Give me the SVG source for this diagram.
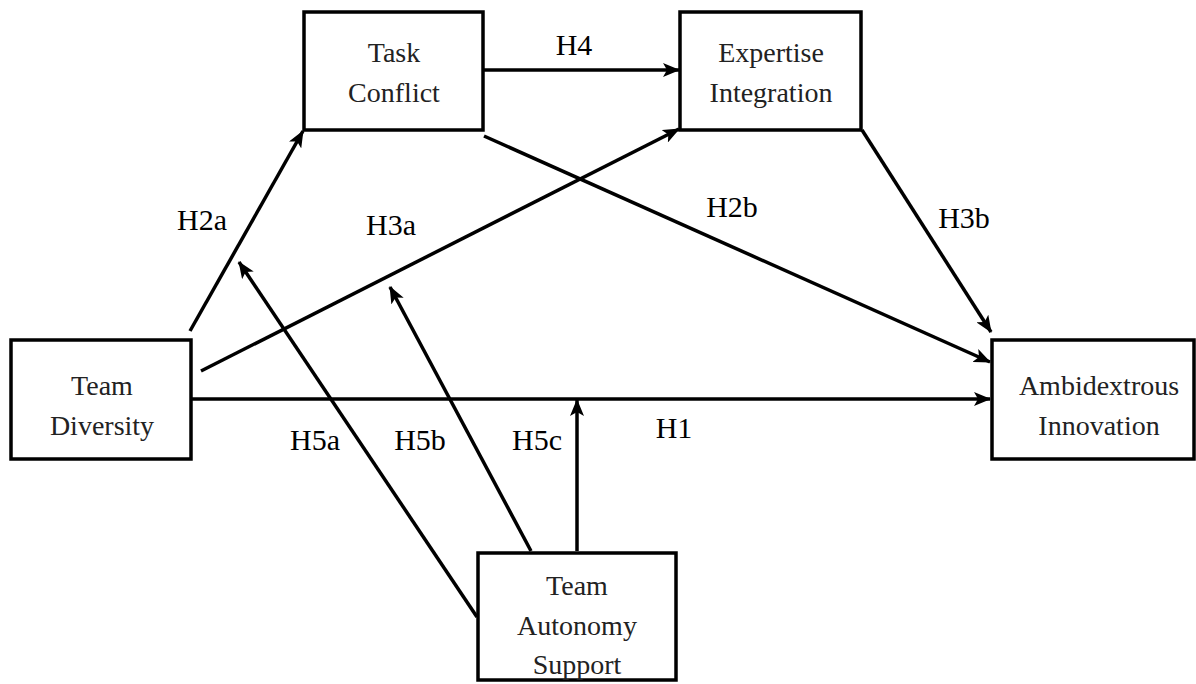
<svg xmlns="http://www.w3.org/2000/svg" width="1196" height="684" viewBox="0 0 1196 684">
<style>
.box{fill:#fff;stroke:#000;stroke-width:3.5}
.nt{font-size:28px;fill:#222;text-anchor:middle}
.lb{font-size:30px;fill:#000;text-anchor:middle}
.cn{stroke:#000;stroke-width:3.5;fill:none;marker-end:url(#ah)}
</style>
<defs>
<marker id="ah" markerUnits="userSpaceOnUse" markerWidth="18" markerHeight="14" refX="16" refY="7" orient="auto">
<path d="M0,0 L17,7 L0,14 L4,7 z" fill="#000"/>
</marker>
</defs>
<rect width="1196" height="684" fill="#fff"/>
<g id="connectors">
<line class="cn" x1="483" y1="70" x2="679" y2="70"/>
<line class="cn" x1="190" y1="331" x2="303" y2="131"/>
<line class="cn" x1="201" y1="371" x2="679" y2="129"/>
<line class="cn" x1="484" y1="136" x2="990" y2="362"/>
<line class="cn" x1="862" y1="130" x2="991" y2="332"/>
<line class="cn" x1="191" y1="399" x2="990" y2="399"/>
<line class="cn" x1="477" y1="617" x2="239" y2="262"/>
<line class="cn" x1="531" y1="551" x2="390" y2="287"/>
<line class="cn" x1="577" y1="551" x2="577" y2="400"/>
</g>
<g font-family="'Liberation Serif', 'Times New Roman', Times, serif">
<g id="task-conflict">
<rect class="box" x="304" y="12" width="179" height="118"/>
<text class="nt" x="394" y="62">Task</text>
<text class="nt" x="394" y="102">Conflict</text>
</g>
<g id="expertise-integration">
<rect class="box" x="680" y="12" width="181" height="118"/>
<text class="nt" x="771" y="62">Expertise</text>
<text class="nt" x="771" y="102">Integration</text>
</g>
<g id="team-diversity">
<rect class="box" x="11" y="340" width="180" height="119"/>
<text class="nt" x="102" y="395">Team</text>
<text class="nt" x="102" y="435">Diversity</text>
</g>
<g id="ambidextrous-innovation">
<rect class="box" x="992" y="340" width="202" height="119"/>
<text class="nt" x="1099" y="395">Ambidextrous</text>
<text class="nt" x="1099" y="435">Innovation</text>
</g>
<g id="team-autonomy-support">
<rect class="box" x="478" y="553" width="198" height="127"/>
<text class="nt" x="577" y="595">Team</text>
<text class="nt" x="577" y="635">Autonomy</text>
<text class="nt" x="577" y="674">Support</text>
</g>
<g id="labels">
<text class="lb" x="574" y="55">H4</text>
<text class="lb" x="202" y="230">H2a</text>
<text class="lb" x="391" y="235">H3a</text>
<text class="lb" x="732" y="217">H2b</text>
<text class="lb" x="964" y="228">H3b</text>
<text class="lb" x="674" y="438">H1</text>
<text class="lb" x="315" y="450">H5a</text>
<text class="lb" x="420" y="450">H5b</text>
<text class="lb" x="537" y="450">H5c</text>
</g>
</g>
</svg>
